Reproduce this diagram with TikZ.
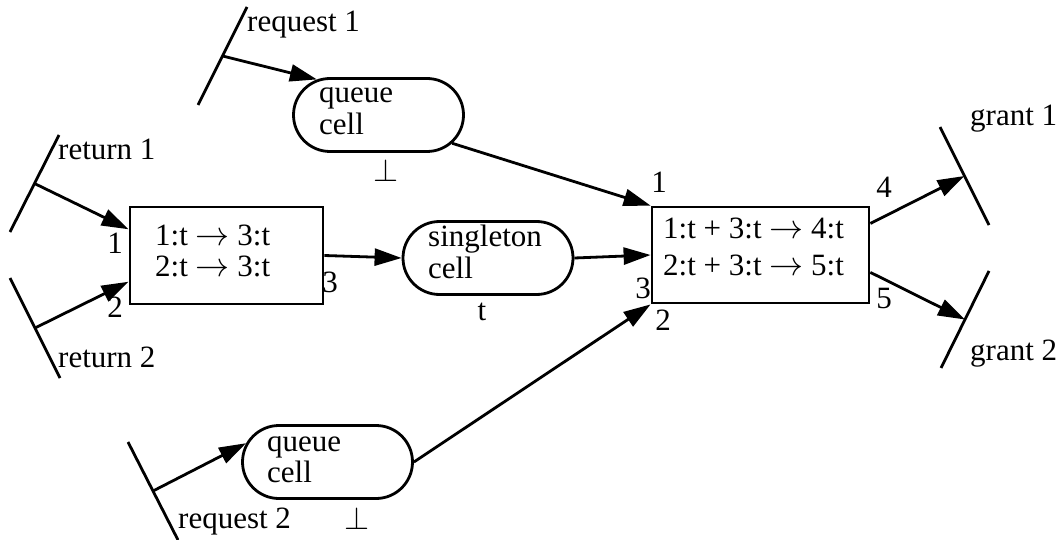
\documentclass[tikz,border=0pt]{standalone}
\usepackage{fontspec}
\setmainfont{Liberation Serif}
\usetikzlibrary{arrows.meta,shapes.misc}
\newcommand{\myto}{\resizebox{34pt}{!}{$\rightarrow$}}
\newcommand{\mybot}{\resizebox{25pt}{!}{$\perp$}}
\begin{document}
\begin{tikzpicture}[x=1pt,y=-1pt,
  every node/.style={font=\fontsize{31}{33}\selectfont},
  txt/.style={inner sep=0pt, anchor=base west},
  num/.style={inner sep=0pt, anchor=base},
  cell/.style={draw, line width=2.8pt, rounded rectangle, minimum width=170pt, minimum height=73pt, inner sep=0pt},
  rulebox/.style={draw, line width=2.8pt, rectangle, inner sep=0pt},
  bar/.style={line width=2.8pt},
  flow/.style={line width=2.8pt, -{Triangle[length=27pt,width=17pt]}},
]
\useasboundingbox (0,0) rectangle (1062,540);

% terminals (bars)
\coordinate (rq1a) at (247,7);   \coordinate (rq1b) at (198,105); \coordinate (rq1m) at (222.5,56);
\coordinate (rt1a) at (59,135);  \coordinate (rt1b) at (10,232);  \coordinate (rt1m) at (34.5,183.5);
\coordinate (rt2a) at (10,278);  \coordinate (rt2b) at (60,378);  \coordinate (rt2m) at (35,328);
\coordinate (rq2a) at (128,442); \coordinate (rq2b) at (178,540); \coordinate (rq2m) at (153,491);
\coordinate (g1a) at (940,127);  \coordinate (g1b) at (989,225);  \coordinate (g1m) at (964.5,176);
\coordinate (g2a) at (989,271);  \coordinate (g2b) at (941,368);  \coordinate (g2m) at (965,319.5);
\draw[bar] (rq1a) -- (rq1b);
\draw[bar] (rt1a) -- (rt1b);
\draw[bar] (rt2a) -- (rt2b);
\draw[bar] (rq2a) -- (rq2b);
\draw[bar] (g1a) -- (g1b);
\draw[bar] (g2a) -- (g2b);

\node[txt] (lrq1) at (247,32) {request 1};
\node[txt] (lrt1) at (58,160) {return 1};
\node[txt] (lrt2) at (58,367) {return 2};
\node[txt] (lrq2) at (178,528) {request 2};
\node[txt] (lg1) at (970,126) {grant 1};
\node[txt] (lg2) at (970,360) {grant 2};

% cells
\node[cell] (q1) at (378.5,115) {};
\node[cell] (sing) at (488,258) {};
\node[cell] (q2) at (327.5,462) {};
\node[txt] (q1a) at (319,103) {queue};
\node[txt] (q1b) at (319,135) {cell};
\node[txt] (sa) at (428,246) {singleton};
\node[txt] (sb) at (428,278) {cell};
\node[txt] (q2a) at (267,451) {queue};
\node[txt] (q2b) at (267,482) {cell};
\node[num] (q1v) at (386,182) {\mybot};
\node[num] (sv) at (482,320) {t};
\node[num] (q2v) at (357,529) {\mybot};

% rule boxes
\node[rulebox, minimum width=193pt, minimum height=97pt] (b1) at (226.5,255.5) {};
\node[rulebox, minimum width=217pt, minimum height=96pt] (b2) at (760.5,255) {};
\node[txt] (b1a) at (155,245) {1:t \myto{} 3:t};
\node[txt] (b1b) at (155,276) {2:t \myto{} 3:t};
\node[txt] (b2a) at (663,238) {1:t + 3:t \myto{} 4:t};
\node[txt] (b2b) at (663,275) {2:t + 3:t \myto{} 5:t};

% port numbers
\node[num] (p11) at (115,253) {1};
\node[num] (p12) at (115,317) {2};
\node[num] (p13) at (330,292) {3};
\node[num] (p21) at (659,193) {1};
\node[num] (p24) at (884,197) {4};
\node[num] (p23) at (643,298) {3};
\node[num] (p22) at (663,330) {2};
\node[num] (p25) at (884,308) {5};

% connectors
\draw[flow] (rq1m) -- (q1.150);
\draw[flow] (q1.-21) -- (b2.north west);
\draw[flow] (rt1m) -- (b1.165);
\draw[flow] (rt2m) -- (b1.195);
\draw[flow] (b1.east) -- (sing.west);
\draw[flow] (sing.east) -- (b2.west);
\draw[flow] (rq2m) -- (q2.167);
\draw[flow] (q2.east) -- (b2.south west);
\draw[flow] (b2.16.4) -- (g1m);
\draw[flow] (b2.-9.4) -- (g2m);
\end{tikzpicture}
\end{document}
